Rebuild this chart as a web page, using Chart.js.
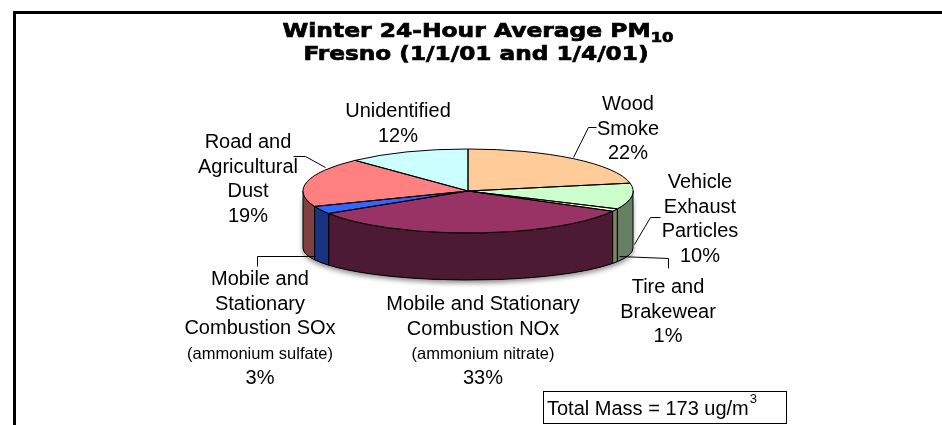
<!DOCTYPE html>
<html>
<head>
<meta charset="utf-8">
<script src="https://cdn.jsdelivr.net/npm/chart.js@4.4.0/dist/chart.umd.min.js"></script>
<style>
  html, body { margin: 0; padding: 0; background: #fff; }
  #wrap { width: 942px; height: 425px; }
</style>
</head>
<body>
<div id="wrap"><canvas id="chart" width="942" height="425"></canvas></div>
<script>
// data
const categories = ['Wood Smoke', 'Vehicle Exhaust Particles', 'Tire and Brakewear',
  'Mobile and Stationary Combustion NOx', 'Mobile and Stationary Combustion SOx',
  'Road and Agricultural Dust', 'Unidentified']
const shares = [22, 10, 1, 33, 3, 19, 12]
const labelLines = [['Wood', 'Smoke'], ['Vehicle', 'Exhaust', 'Particles'], ['Tire and', 'Brakewear'],
  ['Mobile and Stationary', 'Combustion NOx'], ['Mobile and', 'Stationary', 'Combustion SOx'],
  ['Road and', 'Agricultural', 'Dust'], ['Unidentified']]
const notes = ['', '', '', '(ammonium nitrate)', '(ammonium sulfate)', '', '']
const totalMass = 173

const topColors = ['#FFCC99', '#CCFFCC', '#FFFFCC', '#993366', '#3366FF', '#FF8080', '#CCFFFF']
const sideColors = ['#806650', '#668066', '#808066', '#4D1A33', '#1A3380', '#804040', '#668080']

// tilt of the pie: top ellipse and bottom ellipse ratios
const TILT = 42 / 165
const BASE_DROP = 57
const BASE_TILT = 32 / 165

// where the labels go (centre x, first baseline) and their leader lines
const labelPos = [[628, 110], [700, 188], [668, 293], [483, 310], [260, 285], [248, 148], [398, 117]]
const leaders = [
  [[573, 157], [588, 127], [596, 127]],
  [[634, 244], [650, 217], [660, 217]],
  [[619, 256], [668, 258], [668, 268]],
  null,
  [[315, 256], [257, 256], [257, 266]],
  [[325, 167], [305, 156], [293, 156]],
  null
]

const FONT = '"Liberation Sans", Arial, sans-serif'
const TITLE_FONT = '"DejaVu Sans", sans-serif'

function arcProps(arc) {
  return arc.getProps(['x', 'y', 'startAngle', 'endAngle', 'outerRadius'], true)
}

// draw a bold title line stretched sideways to the wanted width
function stretchedText(ctx, parts, cx, baseline, width) {
  let total = 0
  parts.forEach(p => { ctx.font = 'bold ' + p.size + 'px ' + TITLE_FONT; p.w = ctx.measureText(p.text).width; total += p.w })
  const sx = width / total
  ctx.save()
  ctx.translate(cx - width / 2, baseline)
  ctx.scale(sx, 1)
  ctx.textAlign = 'left'
  ctx.strokeStyle = '#000'
  ctx.lineWidth = 0.7
  let xx = 0
  parts.forEach(p => {
    ctx.font = 'bold ' + p.size + 'px ' + TITLE_FONT
    ctx.fillText(p.text, xx, p.dy || 0)
    ctx.strokeText(p.text, xx, p.dy || 0)
    xx += p.w
  })
  ctx.restore()
}

const pie3d = {
  id: 'pie3d',
  beforeDraw(chart) {
    const ctx = chart.ctx
    ctx.save()
    ctx.fillStyle = '#000'
    ctx.fillRect(13, 11, 929, 3)
    ctx.fillRect(13, 11, 3, 414)
    ctx.restore()
  },
  beforeDatasetsDraw(chart) {
    const ctx = chart.ctx
    const arcs = chart.getDatasetMeta(0).data
    const p0 = arcProps(arcs[0])

    // soft shadow under the pie
    ctx.save()
    ctx.beginPath()
    ctx.ellipse(p0.x, p0.y, p0.outerRadius, p0.outerRadius * TILT, 0, 0, Math.PI)
    ctx.ellipse(p0.x, p0.y + BASE_DROP, p0.outerRadius, p0.outerRadius * BASE_TILT, 0, Math.PI, 0, true)
    ctx.closePath()
    ctx.shadowColor = 'rgba(0,0,0,0.45)'
    ctx.shadowBlur = 5
    ctx.shadowOffsetY = 3
    ctx.fillStyle = '#000'
    ctx.fill()
    ctx.restore()

    // side walls of the front half
    arcs.forEach((arc, i) => {
      const {x, y, startAngle, endAngle, outerRadius: r} = arcProps(arc)
      const s = Math.max(startAngle, 0)
      const e = Math.min(endAngle, Math.PI)
      if (e <= s) return
      ctx.save()
      ctx.beginPath()
      ctx.ellipse(x, y, r, r * TILT, 0, s, e)
      ctx.ellipse(x, y + BASE_DROP, r, r * BASE_TILT, 0, e, s, true)
      ctx.closePath()
      ctx.fillStyle = sideColors[i]
      ctx.fill()
      ctx.lineWidth = 1
      ctx.strokeStyle = '#000'
      ctx.stroke()
      ctx.restore()
    })
  },
  beforeDatasetDraw(chart, args) {
    const {x, y} = arcProps(args.meta.data[0])
    const ctx = chart.ctx
    ctx.save()
    ctx.translate(x, y)
    ctx.scale(1, TILT)
    ctx.translate(-x, -y)
  },
  afterDatasetDraw(chart, args) {
    const ctx = chart.ctx
    ctx.restore()
    args.meta.data.forEach(arc => {
      const {x, y, startAngle, endAngle, outerRadius: r} = arcProps(arc)
      ctx.save()
      ctx.beginPath()
      ctx.moveTo(x, y)
      ctx.ellipse(x, y, r, r * TILT, 0, startAngle, endAngle)
      ctx.closePath()
      ctx.lineWidth = 1
      ctx.strokeStyle = '#000'
      ctx.stroke()
      ctx.restore()
    })
  },
  afterDraw(chart) {
    const ctx = chart.ctx
    ctx.save()
    ctx.fillStyle = '#000'

    // title
    stretchedText(ctx, [{text: 'Winter 24-Hour Average PM', size: 20}, {text: '10', size: 14, dy: 5}], 478, 37, 391)
    stretchedText(ctx, [{text: 'Fresno (1/1/01 and 1/4/01)', size: 20}], 476, 60, 345)

    // leader lines
    ctx.strokeStyle = '#000'
    ctx.lineWidth = 1
    leaders.forEach(pts => {
      if (!pts) return
      ctx.beginPath()
      pts.forEach(([px, py], k) => k ? ctx.lineTo(px + 0.5, py + 0.5) : ctx.moveTo(px + 0.5, py + 0.5))
      ctx.stroke()
    })

    // data labels
    ctx.textAlign = 'center'
    categories.forEach((c, i) => {
      const [lx, ly] = labelPos[i]
      let yy = ly
      ctx.font = '20px ' + FONT
      labelLines[i].forEach(line => { ctx.fillText(line, lx, yy); yy += 24.5 })
      if (notes[i]) {
        ctx.font = '16.5px ' + FONT
        ctx.fillText(notes[i], lx, yy)
        yy += 25
      }
      ctx.font = '20px ' + FONT
      ctx.fillText(shares[i] + '%', lx, yy)
    })

    // total mass box
    ctx.lineWidth = 1
    ctx.strokeRect(543.5, 391.5, 243, 32)
    ctx.textAlign = 'left'
    ctx.font = '20px ' + FONT
    const tm = 'Total Mass = ' + totalMass + ' ug/m'
    ctx.fillText(tm, 547, 415)
    const wt = ctx.measureText(tm).width
    ctx.font = '13px ' + FONT
    ctx.fillText('3', 547 + wt + 1, 403)
    ctx.restore()
  }
}

new Chart(document.getElementById('chart'), {
  type: 'pie',
  data: {
    labels: categories,
    datasets: [{
      data: shares,
      backgroundColor: topColors,
      borderWidth: 0,
      hoverOffset: 0,
      radius: 165
    }]
  },
  options: {
    responsive: false,
    animation: false,
    events: [],
    layout: { padding: { left: 300, right: 306, top: 20, bottom: 63 } },
    plugins: {
      legend: { display: false },
      tooltip: { enabled: false },
      title: { display: false }
    }
  },
  plugins: [pie3d]
})
</script>
</body>
</html>
